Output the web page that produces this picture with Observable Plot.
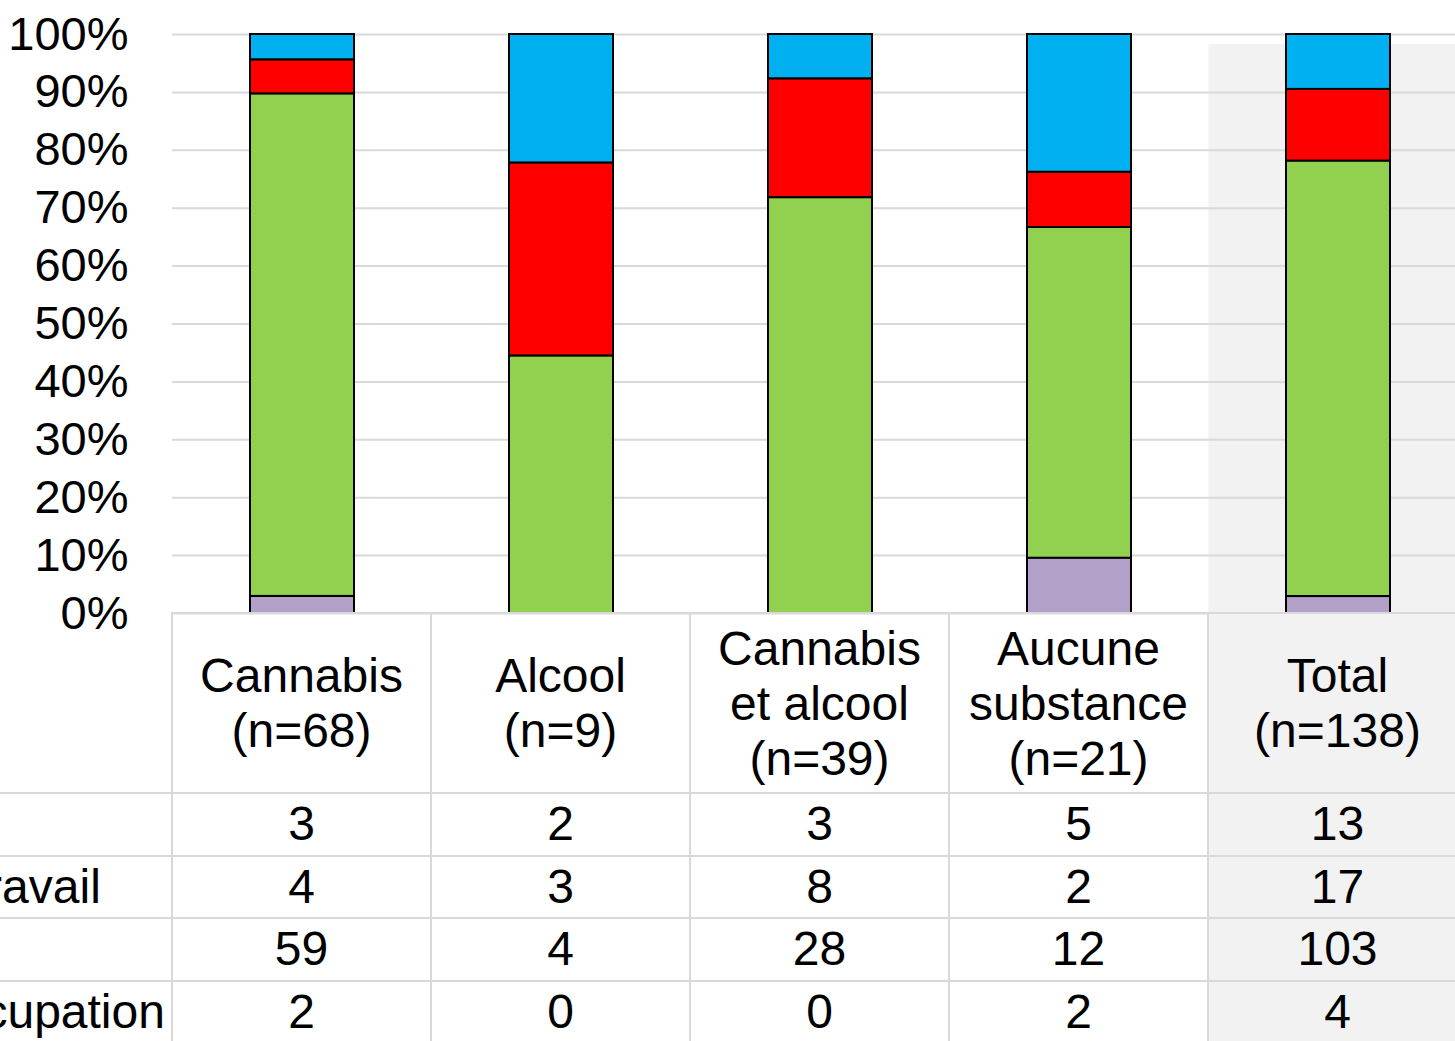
<!DOCTYPE html>
<html><head><meta charset="utf-8">
<script src="https://cdn.jsdelivr.net/npm/d3@7"></script>
<script src="https://cdn.jsdelivr.net/npm/@observablehq/plot@0.6"></script>
<style>
html,body{margin:0;padding:0;background:#fff;overflow:hidden;}
#wrap{position:relative;width:1455px;height:1041px;overflow:hidden;font-family:Arial,"Liberation Sans",sans-serif;}
#chart{position:absolute;left:0;top:0;}
#tbl{position:absolute;left:0;top:612px;border-collapse:collapse;table-layout:fixed;width:1467px;font-size:48px;color:#000;font-family:Arial,"Liberation Sans",sans-serif;}
#tbl td{border:2px solid #d9d9d9;text-align:center;vertical-align:middle;padding:0;white-space:nowrap;}
#tbl tr.head td{height:178px;line-height:55px;}
#tbl tr.row td{height:60.5px;line-height:50px;}
#tbl td.lab{border-left:none;position:relative;text-align:left;}
#tbl tr.head td.lab{border-top:none;}
#tbl td.tot{background:#f2f2f2;}
#tbl td.lab span{position:absolute;left:-190px;top:50%;transform:translateY(-50%);}
</style></head>
<body><div id="wrap"><div id="chart"></div><table id="tbl"></table></div>
<script>
// ---- data ----
const categories = ["Cannabis", "Alcool", "Cannabis et alcool", "Aucune substance", "Total"];
const headerLines = [["Cannabis", "(n=68)"], ["Alcool", "(n=9)"], ["Cannabis", "et alcool", "(n=39)"], ["Aucune", "substance", "(n=21)"], ["Total", "(n=138)"]];
const seriesNames = ["Emploi", "Études/travail", "Études", "Sans occupation"];
const seriesColors = ["#00b0f0", "#ff0000", "#92d050", "#b1a0c7"];
const row1 = [3, 2, 3, 5, 13];
const row2 = [4, 3, 8, 2, 17];
const row3 = [59, 4, 28, 12, 103];
const row4 = [2, 0, 0, 2, 4];
const rows = [row1, row2, row3, row4];
const yTicks = [0, 0.1, 0.2, 0.3, 0.4, 0.5, 0.6, 0.7, 0.8, 0.9, 1];
const totalShadeTop = 0.983;

// ---- chart ----
const data = [];
rows.forEach((vals, i) => vals.forEach((v, j) => data.push({cat: categories[j], series: seriesNames[i], value: v})));
const stackOrder = [seriesNames[3], seriesNames[2], seriesNames[1], seriesNames[0]];

const chart = Plot.plot({
  width: 1455, height: 645,
  marginTop: 34, marginBottom: 32, marginLeft: 172, marginRight: 0,
  style: {fontFamily: "Arial, 'Liberation Sans', sans-serif", fontSize: "47px", color: "#000", background: "transparent"},
  x: {domain: categories, range: [172, 1467], paddingInner: 0.6, paddingOuter: 0.3, axis: null},
  y: {domain: [0, 1]},
  color: {domain: seriesNames, range: seriesColors},
  marks: [
    Plot.barY([{cat: "Total", top: totalShadeTop}], {x: "cat", y1: 0, y2: "top", fill: "#f2f2f2", insetLeft: -77.7, insetRight: -77.7}),
    Plot.gridY(yTicks, {stroke: "#d9d9d9", strokeWidth: 2, strokeOpacity: 1}),
    Plot.axisY(yTicks, {tickSize: 0, tickPadding: 44, tickFormat: d3.format(".0%"), fontSize: 47, label: null}),
    Plot.barY(data, {x: "cat", y: "value", fill: "series", z: "series", order: stackOrder, offset: "normalize", stroke: "#000", strokeWidth: 2})
  ]
});
document.getElementById("chart").append(chart);

// ---- data table ----
const tbl = document.getElementById("tbl");
const cg = document.createElement("colgroup");
[172, 259, 259, 259, 259, 259].forEach(w => { const c = document.createElement("col"); c.style.width = w + "px"; cg.append(c); });
tbl.append(cg);
const hr = document.createElement("tr"); hr.className = "head";
const hl = document.createElement("td"); hl.className = "lab"; hr.append(hl);
headerLines.forEach((lines, j) => {
  const td = document.createElement("td");
  if (categories[j] === "Total") td.className = "tot";
  lines.forEach((t, k) => { if (k) td.append(document.createElement("br")); td.append(document.createTextNode(t)); });
  hr.append(td);
});
tbl.append(hr);
rows.forEach((vals, i) => {
  const tr = document.createElement("tr"); tr.className = "row";
  const lab = document.createElement("td"); lab.className = "lab";
  const sp = document.createElement("span"); sp.textContent = seriesNames[i]; lab.append(sp);
  tr.append(lab);
  vals.forEach((v, j) => {
    const td = document.createElement("td");
    if (categories[j] === "Total") td.className = "tot";
    td.textContent = v;
    tr.append(td);
  });
  tbl.append(tr);
});
</script>
</body></html>
